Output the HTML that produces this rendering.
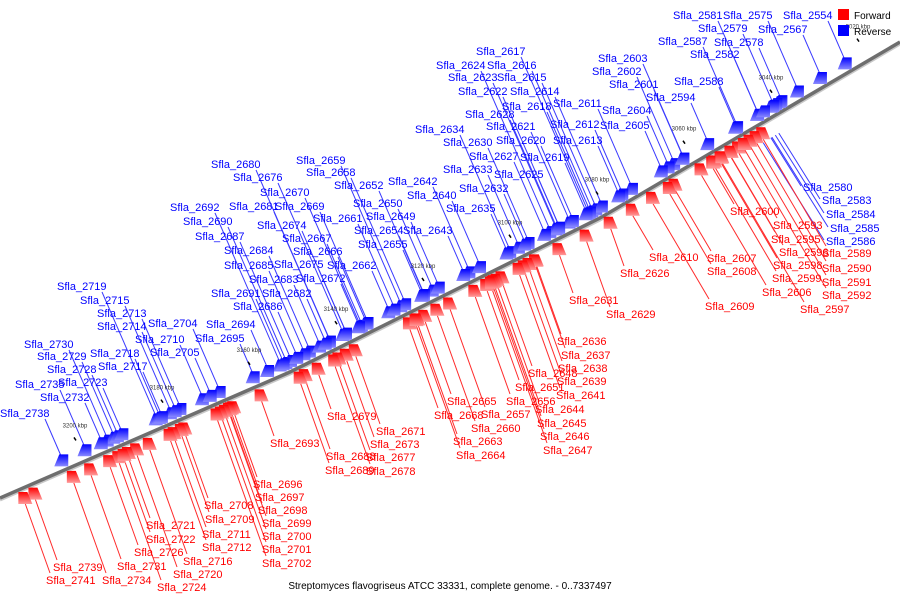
<!DOCTYPE html>
<html><head><meta charset="utf-8"><style>
body{margin:0;background:#fff}
svg{display:block;font-family:"Liberation Sans","DejaVu Sans",sans-serif}
</style></head><body>
<svg id="chart" width="900" height="600" viewBox="0 0 900 600">
<defs>
<linearGradient id="gb" x1="0" y1="0" x2="0" y2="1"><stop offset="0" stop-color="#0000ff"/><stop offset="1" stop-color="#8a8aff"/></linearGradient>
<linearGradient id="gr" x1="0" y1="0" x2="0" y2="1"><stop offset="0" stop-color="#ff0000"/><stop offset="1" stop-color="#ff9a9a"/></linearGradient>
</defs>
<g id="leaders"></g>
<g id="backbone-g"></g>
<g id="glyphs"></g>
<g id="ticks"></g>
<g id="labels"></g>
<g>
<rect x="838" y="9" width="11" height="11" fill="#ff0000"/>
<text x="854" y="19" font-size="10" fill="#000">Forward</text>
<rect x="838" y="25" width="11" height="11" fill="#0000ff"/>
<text x="854" y="35" font-size="10" fill="#000">Reverse</text>
</g>
<text x="450" y="589" font-size="10" text-anchor="middle" fill="#000">Streptomyces flavogriseus ATCC 33331, complete genome. - 0..7337497</text>
</svg>
<script>
const NS="http://www.w3.org/2000/svg";
// backbone path points
const bbX=[0,290,600,900];
const bbY=[498,372,218,42];
// kbp tick labels
const tickKbp=[3200,3180,3160,3140,3120,3100,3080,3060,3040,3020];
// reverse (blue) genes
const revNames=["2554","2581","2575","2579","2567","2587","2578","2582","2588","2617","2624","2616","2623","2615","2622","2614","2618","2611","2603","2602","2601","2594","2604","2605","2628","2621","2612","2634","2620","2613","2630","2627","2619","2633","2625","2632","2642","2640","2635","2659","2658","2652","2650","2649","2643","2654","2655","2662","2680","2676","2670","2669","2661","2667","2666","2672","2692","2690","2687","2681","2674","2684","2685","2675","2683","2682","2691","2686","2694","2695","2704","2710","2705","2719","2715","2713","2714","2718","2717","2730","2729","2728","2723","2735","2732","2738","2580","2583","2584","2585","2586"];
const revLX=[783,673,723,698,758,658,714,690,674,476,436,487,448,497,458,510,502,553,598,592,609,646,602,600,465,486,550,415,496,553,443,469,520,443,494,459,388,407,446,296,306,334,353,366,403,354,358,327,211,233,260,275,313,282,293,296,170,183,195,229,257,224,224,274,249,262,211,233,206,195,148,135,150,57,80,97,97,90,98,24,37,47,58,15,40,0,803,822,826,830,826];
const revLY=[16,16,16,29,30,42,43,55,82,52,66,66,78,78,92,92,107,104,59,72,85,98,111,126,115,127,125,130,141,141,143,157,158,170,175,189,182,196,209,161,173,186,204,217,231,231,245,266,165,178,193,207,219,239,252,279,208,222,237,207,226,251,266,265,280,294,294,307,325,339,324,340,353,287,301,314,327,354,367,345,357,370,383,385,398,414,188,201,215,229,242];
// forward (red) genes
const fwdNames=["2600","2593","2595","2596","2598","2599","2606","2597","2589","2590","2591","2592","2607","2608","2610","2609","2626","2631","2629","2636","2637","2638","2648","2639","2651","2641","2656","2644","2657","2645","2660","2646","2665","2668","2663","2647","2664","2679","2671","2673","2677","2678","2693","2688","2689","2696","2697","2698","2699","2700","2701","2702","2708","2709","2711","2712","2716","2720","2724","2721","2722","2726","2731","2734","2739","2741"];
const fwdLX=[730,773,771,779,773,772,762,800,822,822,822,822,707,707,649,705,620,569,606,557,561,558,528,557,515,556,506,535,481,537,471,540,447,434,453,543,456,327,376,370,366,366,270,326,325,253,255,258,262,262,262,262,204,205,202,202,183,173,157,146,146,134,117,102,53,46];
const fwdLY=[212,226,240,253,266,279,293,310,254,269,283,296,259,272,258,307,274,301,315,342,356,369,374,382,388,396,402,410,415,424,429,437,402,416,442,451,456,417,432,445,458,472,444,457,471,485,498,511,524,537,550,564,506,520,535,548,562,575,588,526,540,553,567,581,568,581];

function bb(x){for(let i=0;i<bbX.length-1;i++){if(x<=bbX[i+1]||i==bbX.length-2){const t=(x-bbX[i])/(bbX[i+1]-bbX[i]);return bbY[i]+t*(bbY[i+1]-bbY[i]);}}}
function kbpX(k){return 75+(3200-k)*4.35;}
function mk(tag,attrs,parent){const e=document.createElementNS(NS,tag);for(const k in attrs)e.setAttribute(k,attrs[k]);parent.appendChild(e);return e;}
const gL=document.getElementById('leaders'),gB=document.getElementById('backbone-g'),gG=document.getElementById('glyphs'),gT=document.getElementById('ticks'),gLab=document.getElementById('labels');

let pts=bbX.map((x,i)=>x+','+bbY[i]).join(' ');
const sh=mk('polyline',{points:bbX.map((x,i)=>x+','+(bbY[i]+2)).join(' '),fill:'none',stroke:'#c8c8c8','stroke-width':3},gB);


const ln=mk('polyline',{points:pts,fill:'none',stroke:'#6e6e6e','stroke-width':3.5},gB);



function angle(x){return Math.atan2(bb(x+5)-bb(x-5),10)*180/Math.PI;}
function glyph(ax,rev){
  const ay=bb(ax),a=angle(ax);
  const g=mk('g',{transform:`translate(${ax},${ay}) rotate(${a})`},gG);
  
  
  const p=rev?"7,-17 -2,-17 -7,-5 7,-5":"-7,5 2,5 7,17 -7,17";
  mk('polygon',{points:p,fill:rev?'url(#gb)':'url(#gr)',transform:`rotate(${-a})`},g);
}
function label(txt,x,y,col){
  const t=mk('text',{x:x,y:y+3,'font-size':11,fill:col},gLab);
  t.textContent='Sfla_'+txt;
  
  
}
const K=2.3;
revNames.forEach((n,i)=>{
  const lx=revLX[i],ly=revLY[i];let ax,sx,sy,ay;
  if(lx>=800&&ly>150){
    sx=lx-2;sy=ly-2;ax=sx;
    for(let k=0;k<20;k++){ax=sx-(sy-(bb(ax)+20))/1.6;}
    ay=bb(ax)+20;
  } else {
    sx=lx+45;sy=ly+5;ax=sx;
    for(let k=0;k<20;k++){ax=sx+((bb(ax)-15)-sy)/K;}
    ay=bb(ax)-15;
  }
  const l=mk('line',{x1:sx,y1:sy,x2:ax,y2:ay,stroke:'#3a3aff','stroke-width':1},gL);
  
  
  glyph(ax,true);
  label(n,lx,ly,'#0000ff');
});
fwdNames.forEach((n,i)=>{
  const lx=fwdLX[i],ly=fwdLY[i];
  const sx=lx+4,sy=ly-8;let ax=sx;
  const kk=lx>640?1.7:2.8;
  for(let k=0;k<20;k++){ax=sx-(sy-(bb(ax)+17))/kk;}
  const l=mk('line',{x1:sx,y1:sy,x2:ax,y2:bb(ax)+17,stroke:'#ff2a2a','stroke-width':1},gL);
  
  
  glyph(ax,false);
  label(n,lx,ly,'#ff0000');
});
tickKbp.forEach(k=>{
  const x=kbpX(k);
  const t=mk('text',{x:x,y:bb(x)-38,'font-size':6,fill:'#333','text-anchor':'middle'},gT);
  t.textContent=k+' kbp';
  
  
  const m=mk('line',{x1:x-1,y1:bb(x)-28,x2:x+1,y2:bb(x)-25,stroke:'#000','stroke-width':1.5},gT);
  
  
});
</script>
</body></html>
